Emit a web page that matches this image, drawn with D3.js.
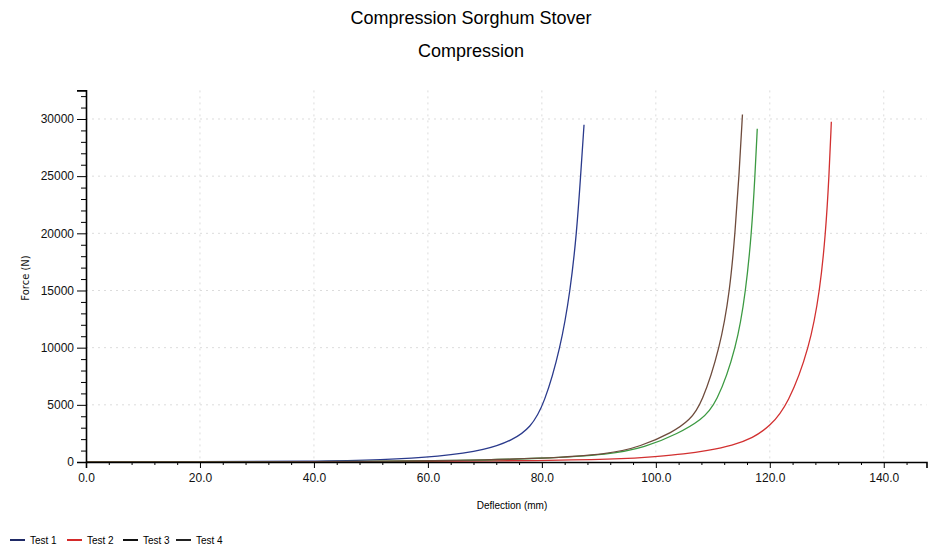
<!DOCTYPE html>
<html>
<head>
<meta charset="utf-8">
<script src="https://cdn.jsdelivr.net/npm/d3@7"></script>
<style>
  body { margin: 0; background: #fff; }
  text { font-family: "Liberation Sans Narrow", "Arial Narrow", "Liberation Sans", sans-serif; }
</style>
</head>
<body>
<div id="root"></div>
<script>
// values (deflection mm, force N)
const seriesNames = ["Test 1", "Test 2", "Test 3", "Test 4"];

const test1Defl = [0, 20, 40, 52, 62, 70.3, 74.9, 78.0, 80.4, 83.3, 85.0, 86.1, 86.8, 87.4];
const test1Force = [0, 15, 60, 175, 460, 1050, 1920, 3000, 5000, 10000, 15000, 20000, 25000, 29500];

const test2Defl = [0, 40, 60, 80, 94, 100, 105, 109, 113.5, 117, 120, 123.2, 127.0, 128.8, 129.8, 130.4, 130.8];
const test2Force = [0, 10, 40, 120, 250, 480, 700, 1000, 1450, 2100, 3100, 5000, 10000, 15000, 20000, 25000, 29750];

const test3Defl = [0, 30, 50, 65, 80, 92, 98, 104, 108, 110.6, 114.2, 115.8, 116.8, 117.4, 117.8];
const test3Force = [0, 10, 40, 120, 300, 650, 1250, 2500, 3700, 5000, 10000, 15000, 20000, 25000, 29150];

const test4Defl = [0, 30, 50, 65, 80, 92, 97.2, 103, 106, 108.0, 111.3, 113.0, 113.9, 114.6, 115.2];
const test4Force = [0, 10, 40, 120, 300, 700, 1340, 2600, 3700, 5000, 10000, 15000, 20000, 25000, 30400];

const xTicks = [0, 20, 40, 60, 80, 100, 120, 140];
const yTicks = [0, 5000, 10000, 15000, 20000, 25000, 30000];

const lineColors = ["#2a3a8c", "#d23030", "#3c9a42", "#6e4b3c"];
const legendColors = ["#1f2a66", "#d42a2a", "#111", "#222"];

const W = 928, H = 546;
const svg = d3.select("#root").append("svg")
    .attr("width", W)
    .attr("height", H);

const x = d3.scaleLinear().domain([0, 147.5]).range([86, 926.5]);
const y = d3.scaleLinear().domain([0, 32500]).range([462, 90.4]);

// titles
svg.append("text")
    .attr("x", 471).attr("y", 24)
    .attr("text-anchor", "middle")
    .style("font-family", "'Liberation Sans', Arial, sans-serif")
    .style("font-size", "18px")
    .text("Compression Sorghum Stover");
svg.append("text")
    .attr("x", 471).attr("y", 57)
    .attr("text-anchor", "middle")
    .style("font-family", "'Liberation Sans', Arial, sans-serif")
    .style("font-size", "18px")
    .text("Compression");

// faint dotted grid
svg.append("g").selectAll("line")
    .data(xTicks.filter(d => d > 0))
    .join("line")
    .attr("x1", d => x(d)).attr("x2", d => x(d))
    .attr("y1", y.range()[1]).attr("y2", y(0))
    .attr("stroke", "#dcdcdc")
    .attr("stroke-dasharray", "2,4");
svg.append("g").selectAll("line")
    .data(yTicks.filter(d => d > 0))
    .join("line")
    .attr("x1", x(0)).attr("x2", x.range()[1])
    .attr("y1", d => y(d)).attr("y2", d => y(d))
    .attr("stroke", "#dcdcdc")
    .attr("stroke-dasharray", "2,4");

// curves
const data = [
    d3.zip(test1Defl, test1Force),
    d3.zip(test2Defl, test2Force),
    d3.zip(test3Defl, test3Force),
    d3.zip(test4Defl, test4Force)
];

const line = d3.line()
    .x(d => x(d[0]))
    .y(d => y(d[1]))
    .curve(d3.curveBasis);

svg.append("g").selectAll("path")
    .data(data)
    .join("path")
    .attr("d", line)
    .attr("fill", "none")
    .attr("stroke", (d, i) => lineColors[i])
    .attr("stroke-width", 1.3);

// axes
svg.append("g")
    .attr("transform", `translate(${x(0)},0)`)
    .call(d3.axisLeft(y).tickValues(yTicks).tickSize(9).tickPadding(3).tickFormat(d3.format("d")));
svg.append("g")
    .attr("transform", `translate(${x(0)},0)`)
    .call(d3.axisLeft(y).tickValues(d3.range(1000, 33000, 1000).filter(d => d % 5000)).tickSize(5).tickFormat(""))
    .call(g => g.select(".domain").remove());

svg.append("g")
    .attr("transform", `translate(0,${y(0)})`)
    .call(d3.axisBottom(x).tickValues(xTicks).tickSize(6).tickPadding(5).tickFormat(d3.format(".1f")));
svg.append("g")
    .attr("transform", `translate(0,${y(0)})`)
    .call(d3.axisBottom(x).tickValues(d3.range(4, 148, 4).filter(d => d % 20)).tickSize(3).tickFormat(""))
    .call(g => g.select(".domain").remove());

svg.selectAll(".domain").attr("stroke-width", 1.6);
svg.selectAll(".tick text").style("font-size", "12px").attr("fill", "#111");

// axis labels
svg.append("text")
    .attr("x", 512).attr("y", 509)
    .attr("text-anchor", "middle")
    .style("font-size", "10px")
    .text("Deflection (mm)");
svg.append("text")
    .attr("transform", "translate(29,278) rotate(-90)")
    .attr("text-anchor", "middle")
    .style("font-family", "'DejaVu Sans', sans-serif")
    .style("font-size", "10px")
    .attr("fill", "#111")
    .text("Force (N)");

// legend
const legendX = [10, 67, 123, 176];
const leg = svg.append("g").selectAll("g")
    .data(seriesNames)
    .join("g")
    .attr("transform", (d, i) => `translate(${legendX[i]},540)`);
leg.append("line")
    .attr("x1", 0).attr("x2", 15)
    .attr("stroke", (d, i) => legendColors[i])
    .attr("stroke-width", 2);
leg.append("text")
    .attr("x", 20).attr("y", 4)
    .style("font-size", "10px")
    .text(d => d);
</script>
</body>
</html>
